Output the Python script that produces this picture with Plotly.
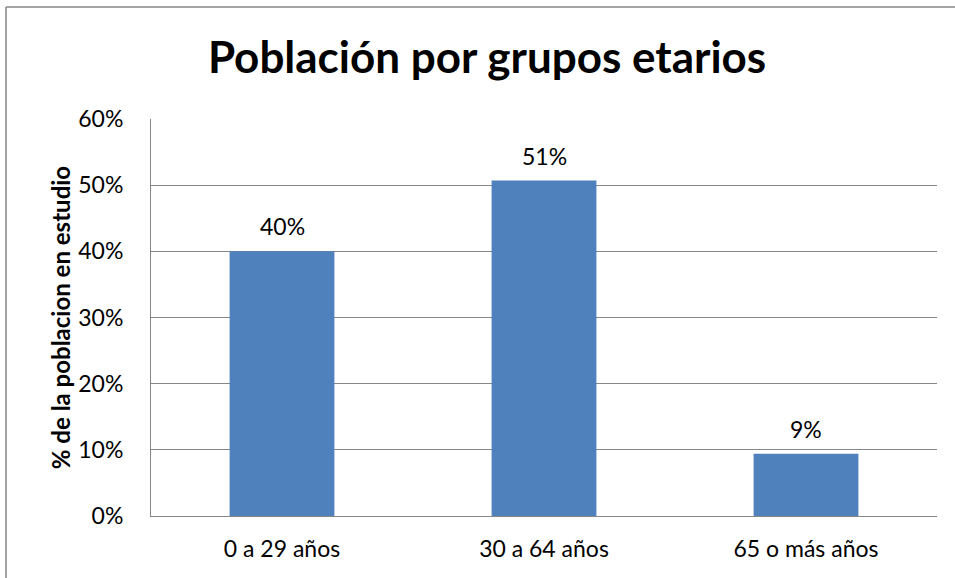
import plotly.graph_objects as go

categories = ["0 a 29 años", "30 a 64 años", "65 o más años"]
values = [0.40, 0.507, 0.094]
labels = ["40%", "51%", "9%"]
y_ticks = [0, 0.1, 0.2, 0.3, 0.4, 0.5, 0.6]
y_tick_labels = ["0%", "10%", "20%", "30%", "40%", "50%", "60%"]

FONT = "Lato"
GRID = "#868686"

fig = go.Figure(go.Bar(
    x=categories, y=values,
    marker=dict(color="#4F81BD", line=dict(width=0)),
    hoverinfo="skip",
))

for c, v, t in zip(categories, values, labels):
    fig.add_annotation(x=c, y=v, text=t, showarrow=False, yanchor="middle", yshift=25,
                       font=dict(family=FONT, size=23, color="#000000"))

L, R, T, B = 151, 18, 119, 62
PW, PH = 955 - L - R, 578 - T - B

fig.update_layout(
    width=955, height=578,
    margin=dict(l=L, r=R, t=T, b=B),
    paper_bgcolor="white", plot_bgcolor="white",
    bargap=0.6,
    showlegend=False,
    font=dict(family=FONT, color="#000000"),
    title=dict(text="<b>Población por grupos etarios</b>", x=0.51, xanchor="center",
               y=1 - 58 / 578, yanchor="middle", yref="container",
               font=dict(family=FONT, size=44, color="#000000")),
    xaxis=dict(showline=True, linecolor=GRID, linewidth=1,
               ticks="", ticklabelstandoff=12,
               tickfont=dict(family=FONT, size=23, color="#000000"),
               showgrid=False),
    yaxis=dict(range=[0, 0.6], tickvals=y_ticks, ticktext=y_tick_labels,
               showgrid=True, gridcolor=GRID, gridwidth=1,
               showline=True, linecolor=GRID, linewidth=1,
               ticks="", ticklabelstandoff=22,
               tickfont=dict(family=FONT, size=23, color="#000000"),
               title=dict(text="<b>% de la poblacion en estudio</b>",
                          font=dict(family=FONT, size=24, color="#000000"), standoff=0),
               zeroline=False),
)
# outer chart border (left and top visible in the crop)
fig.add_shape(type="line", xref="paper", yref="paper",
              x0=(6 - L) / PW, x1=(6 - L) / PW, y0=-(B + 5) / PH, y1=(578 - B - 7) / PH,
              line=dict(color=GRID, width=1.5))
fig.add_shape(type="line", xref="paper", yref="paper",
              x0=(6 - L) / PW, x1=(955 - L + 5) / PW, y0=(578 - B - 7) / PH, y1=(578 - B - 7) / PH,
              line=dict(color=GRID, width=1.5))

fig.write_html("out.html", config={"displayModeBar": False},
               post_script="document.body.style.margin='0';document.body.style.padding='0';")
